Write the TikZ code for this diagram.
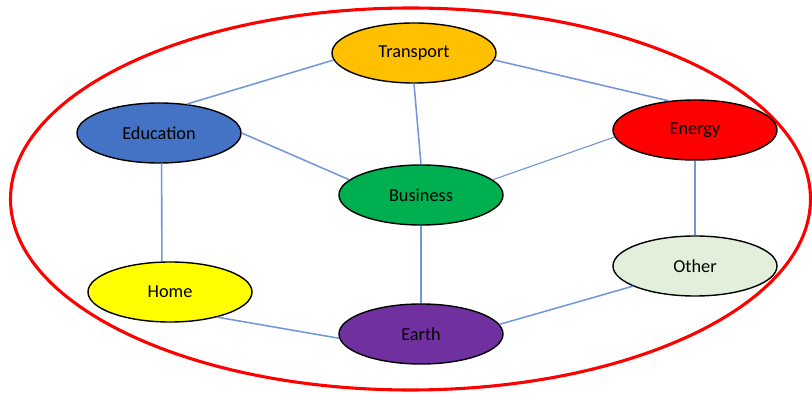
\documentclass[tikz,border=0pt]{standalone}
\usepackage{fontspec}
\setmainfont{Carlito}
\usetikzlibrary{shapes}

\definecolor{transportc}{HTML}{FFC000}
\definecolor{educationc}{HTML}{4472C4}
\definecolor{energyc}{HTML}{FF0000}
\definecolor{businessc}{HTML}{00B050}
\definecolor{homec}{HTML}{FFFF00}
\definecolor{earthc}{HTML}{7030A0}
\definecolor{otherc}{HTML}{E2EFDA}
\definecolor{linkc}{HTML}{7297DA}

\begin{document}
\begin{tikzpicture}[x=0.025cm,y=-0.025cm,
  topic/.style={ellipse,draw=black,line width=1pt,minimum width=4.1cm,minimum height=1.5cm,inner sep=0pt,font=\fontsize{13}{15}\selectfont},
  link/.style={draw=linkc,line width=1.1pt}]
\useasboundingbox (0,0) rectangle (812,393);

% outer ring
\draw[red,line width=2.2pt] (410.5,199) ellipse (400 and 191);

\node[topic,fill=transportc] (transport) at (414,53) {Transport};
\node[topic,fill=educationc] (education) at (159,133) {Education};
\node[topic,fill=energyc] (energy) at (695,130) {Energy};
\node[topic,fill=businessc] (business) at (421,195) {Business};
\node[topic,fill=homec] (home) at (170,292) {Home};
\node[topic,fill=earthc] (earth) at (421,334) {Earth};
\node[topic,fill=otherc] (other) at (695,266) {Other};

% links
\draw[link] (transport.185) -- (education.46);
\draw[link] (transport.-5) -- (energy.132);
\draw[link] (transport.south) -- (business.north);
\draw[link] (education.east) -- (business.168);
\draw[link,line width=0.8pt] (energy.185) -- (business.12);
\draw[link] (energy.south) -- (other.north);
\draw[link] (education.-85) -- (home.105);
\draw[link] (business.south) -- (earth.north);
\draw[link] (home.-28) -- (earth.183);
\draw[link] (other.198) -- (earth.7);
\end{tikzpicture}
\end{document}
